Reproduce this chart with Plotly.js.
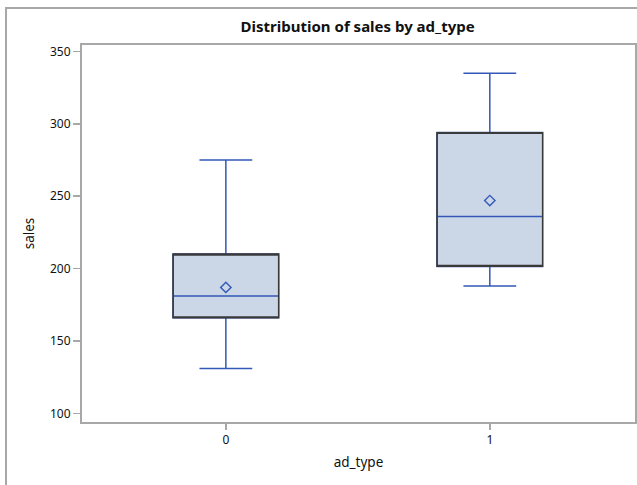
<!DOCTYPE html>
<html>
<head>
<meta charset="utf-8">
<script src="https://cdn.plot.ly/plotly-3.0.1.min.js"></script>
<style>
body{margin:0;padding:0;background:#fff;}
#wrap{position:relative;width:637px;height:485px;}
#chart{width:637px;height:485px;}
#frame{position:absolute;left:5px;top:7px;right:-5px;bottom:-5px;border-left:2px solid #a8a8a8;border-top:2px solid #a8a8a8;pointer-events:none;}
</style>
</head>
<body>
<div id="wrap"><div id="chart"></div><div id="frame"></div></div>
<script>
const categories = ['0', '1'];
const q1Vals = [166, 201.5];
const medianVals = [181, 236];
const q3Vals = [210, 294];
const minVals = [131, 188];
const maxVals = [275, 335];
const meanVals = [187, 247];
const yTicks = [100, 150, 200, 250, 300, 350];

const blue = '#3358b8';
const fill = '#cbd6e6';
const dark = '#3a3a3a';
const fontFam = 'Noto Sans, Open Sans, DejaVu Sans, sans-serif';

function outline(medianAt) {
  return {
    type: 'box', x: categories,
    q1: q1Vals, median: medianAt, q3: q3Vals,
    lowerfence: q1Vals, upperfence: q3Vals,
    width: 0.4, whiskerwidth: 0,
    fillcolor: 'rgba(0,0,0,0)', line: {color: dark, width: 1.1},
    boxpoints: false, hoverinfo: 'none', showlegend: false
  };
}

const traces = [
  {
    type: 'box', x: categories,
    q1: q1Vals, median: medianVals, q3: q3Vals,
    lowerfence: minVals, upperfence: maxVals,
    width: 0.4, whiskerwidth: 0.5,
    fillcolor: fill, line: {color: blue, width: 1.5},
    boxpoints: false, hoverinfo: 'none', showlegend: false
  },
  outline(q1Vals),
  outline(q3Vals),
  {
    type: 'scatter', mode: 'markers', x: categories, y: meanVals,
    marker: {symbol: 'diamond-open', size: 8, color: blue, line: {width: 1.4, color: blue}},
    hoverinfo: 'none', showlegend: false
  }
];

const layout = {
  width: 637, height: 485,
  margin: {l: 82, r: 2, t: 45, b: 63},
  paper_bgcolor: '#fff', plot_bgcolor: '#fff',
  boxmode: 'overlay',
  font: {family: fontFam, size: 12, color: '#111'},
  title: {text: '<b>Distribution of sales by ad_type</b>', x: 0.5615, xanchor: 'center', y: 0.944, yanchor: 'middle', font: {size: 15, color: '#111', family: fontFam}},
  xaxis: {
    type: 'category', categoryorder: 'array', categoryarray: categories,
    range: [-0.545, 1.55],
    showline: true, mirror: true, linecolor: '#a8a8a8', linewidth: 2,
    ticks: 'outside', ticklen: 6, tickwidth: 1.5, tickcolor: '#a8a8a8',
    showgrid: false, zeroline: false,
    tickfont: {size: 12, color: '#111'},
    title: {text: 'ad_type', font: {size: 13.5, color: '#111'}, standoff: 10}
  },
  yaxis: {
    range: [94, 354.5],
    tickvals: yTicks, ticktext: yTicks.map(String),
    showline: true, mirror: true, linecolor: '#a8a8a8', linewidth: 2,
    ticks: 'outside', ticklen: 7, tickwidth: 1.5, tickcolor: '#a8a8a8',
    showgrid: false, zeroline: false,
    tickfont: {size: 12, color: '#111'},
    title: {text: 'sales', font: {size: 13.5, color: '#111'}, standoff: 12}
  }
};

Plotly.newPlot('chart', traces, layout, {displayModeBar: false, staticPlot: true});
</script>
</body>
</html>
